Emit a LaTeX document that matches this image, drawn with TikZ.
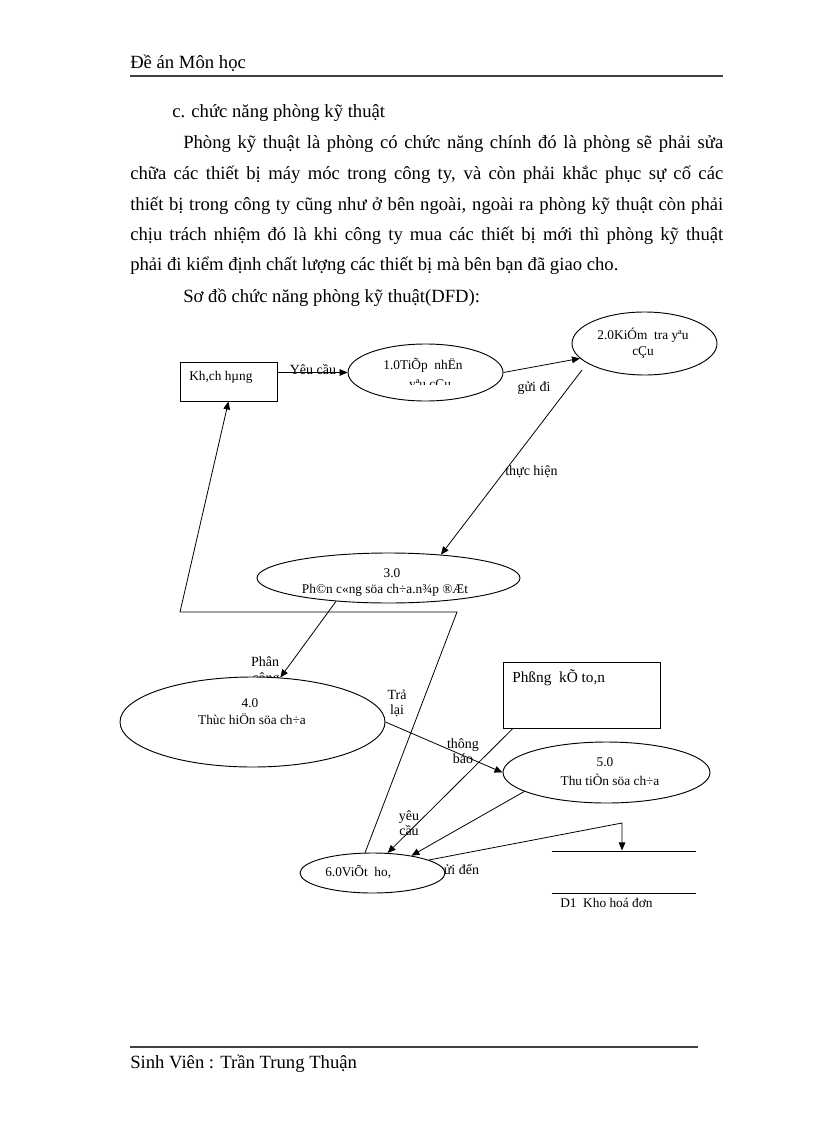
\documentclass[tikz,border=0pt]{standalone}
\usepackage{fontspec}
\setmainfont{Liberation Serif}
\usetikzlibrary{arrows.meta,shapes.geometric}
\begin{document}
\begin{tikzpicture}[x=0.75pt,y=-0.75pt,
  body/.style={font=\fontsize{14}{16}\selectfont, anchor=base west, inner sep=0pt},
  dtxt/.style={font=\fontsize{10}{12.75}\selectfont, inner sep=0pt, align=center},
  lbl/.style={font=\fontsize{10.5}{12.75}\selectfont, inner sep=0pt, align=center},
  proc/.style={ellipse, draw, fill=white, line width=0.7pt, inner sep=0pt},
  ent/.style={rectangle, draw, fill=white, line width=0.7pt, inner sep=0pt},
  conn/.style={line width=0.6pt},
  flow/.style={line width=0.6pt, -{Triangle[length=6pt,width=5pt]}},
  rulestyle/.style={line width=1.5pt, draw=black!75}]
\useasboundingbox (0,0) rectangle (816,1123);

% header and footer
\node[body] (hdr) at (130,69) {Đề án Môn học};
\coordinate (hr1) at (130,76); \coordinate (hr2) at (723,76);
\draw[rulestyle] (hr1) -- (hr2);
\coordinate (fr1) at (130,1047); \coordinate (fr2) at (698,1047);
\draw[rulestyle] (fr1) -- (fr2);
\node[body] (ftr) at (130,1068) {Sinh Viên : Trần Trung Thuận};

% body text
\node[body] (t1) at (172,118) {c. chức năng phòng kỹ thuật};
\node[body] (t2) at (183,149) {\makebox[405pt][s]{Phòng kỹ thuật là phòng có chức năng chính đó là phòng sẽ phải sửa}};
\node[body] (t3) at (130,180) {\makebox[444.75pt][s]{chữa các thiết bị máy móc trong công ty, và còn phải khắc phục sự cố các}};
\node[body] (t4) at (130,210) {\makebox[444.75pt][s]{thiết bị trong công ty cũng như ở bên ngoài, ngoài ra phòng kỹ thuật còn phải}};
\node[body] (t5) at (130,240) {\makebox[444.75pt][s]{chịu trách nhiệm đó là khi công ty mua các thiết bị mới thì phòng kỹ thuật}};
\node[body] (t6) at (130,270) {phải đi kiểm định chất lượng các thiết bị mà bên bạn đã giao cho.};
\node[body] (t7) at (183,302) {Sơ đồ chức năng phòng kỹ thuật(DFD):};

% labels partly hidden behind shapes
\node[lbl] (lphan) at (265,662) {Phân};
\node[lbl] (lcong) at (266,679) {công};
\node[lbl] (lguiden) at (458,871) {gửi đến};

% shapes
\node[ent, minimum width=72.75pt, minimum height=29.25pt] (kh) at (228.5,381.5) {};
\node[proc, minimum width=116.25pt, minimum height=42.75pt] (e1) at (425.5,372.5) {};
\node[proc, minimum width=108.75pt, minimum height=47.25pt] (e2) at (644.5,343.5) {};
\node[proc, minimum width=197.25pt, minimum height=37.5pt] (e3) at (388.5,578) {};
\node[proc, minimum width=198.75pt, minimum height=67.5pt] (e4) at (252.5,722) {};
\node[ent, minimum width=117.75pt, minimum height=49.5pt] (kt) at (581.5,695) {};
\node[proc, minimum width=155.25pt, minimum height=45.75pt] (e5) at (606.5,772.5) {};
\node[proc, minimum width=108.75pt, minimum height=30pt] (e6) at (372.5,873) {};
\node[inner sep=0pt, minimum width=108pt, minimum height=30.75pt] (d1) at (624,872.5) {};
\draw[conn] (d1.north west) -- (d1.north east);
\draw[conn] (d1.south west) -- (d1.south east);

% texts in shapes
\node[dtxt, anchor=west] (khtxt) at (189,377) {Kh,ch hµng};
\node[dtxt] (e1a) at (423,365) {1.0TiÕp\ \ nhËn};
\begin{scope}
  \clip (340,330) rectangle (510,384);
  \node[dtxt] (e1b) at (430,386) {yªu cÇu};
\end{scope}
\node[dtxt] (e2a) at (643,335) {2.0KiÓm\ \ tra yªu};
\node[dtxt] (e2b) at (643,353) {cÇu};
\node[dtxt] (e3a) at (392,573) {3.0};
\node[dtxt] (e3b) at (385,590) {Ph©n c«ng söa ch÷a.n¾p ®Æt};
\node[dtxt] (e4a) at (250,703) {4.0};
\node[dtxt] (e4b) at (252,719) {Thùc hiÖn söa ch÷a};
\node[dtxt, anchor=west, font=\fontsize{11.5}{14}\selectfont] (kttxt) at (512,678) {Phßng\ \ kÕ to,n};
\node[dtxt] (e5a) at (605,762) {5.0};
\node[dtxt] (e5b) at (610,780) {Thu tiÒn söa ch÷a};
\node[dtxt, anchor=west] (e6txt) at (325,872) {6.0ViÕt\ \ ho,};
\node[dtxt, anchor=west] (d1txt) at (560,903) {D1\ \ Kho hoá đơn};

% other labels
\node[lbl] (lyc) at (313,369) {Yêu cầu};
\node[lbl] (lgd) at (534,388) {gửi đi};
\node[lbl, anchor=west] (lth) at (505,472) {thực hiện};
\node[lbl] (ltl) at (397,703) {Trả\\[-1.5pt]lại};
\node[lbl] (ltb) at (463,751) {thông\\[-1.5pt]báo};
\node[lbl] (lyc2) at (409,823) {yêu\\[-1.5pt]cầu};

% connectors
\coordinate (c2s) at (582,370);
\coordinate (p1) at (457,612);
\coordinate (p2) at (180,612);
\coordinate (d1c) at (622,823);
\draw[flow] (kh.east |- e1.west) -- (e1.west);
\draw[flow] (e1.east) -- (e2.193);
\draw[flow] (c2s) -- (e3.24);
\draw[flow] (e3.204) -- (e4.58);
\draw[flow] (e6.110) -- (p1) -- (p2) -- (kh.south);
\draw[flow] (e4.east) -- (e5.west);
\draw[flow] (kt.206.7) -- (e6.53.5);
\draw[flow] (e5.193.8) -- (e6.24.5);
\draw[flow] (e6.13) -- (d1c) -- ([yshift=1pt]d1c |- d1.north);
\end{tikzpicture}
\end{document}
